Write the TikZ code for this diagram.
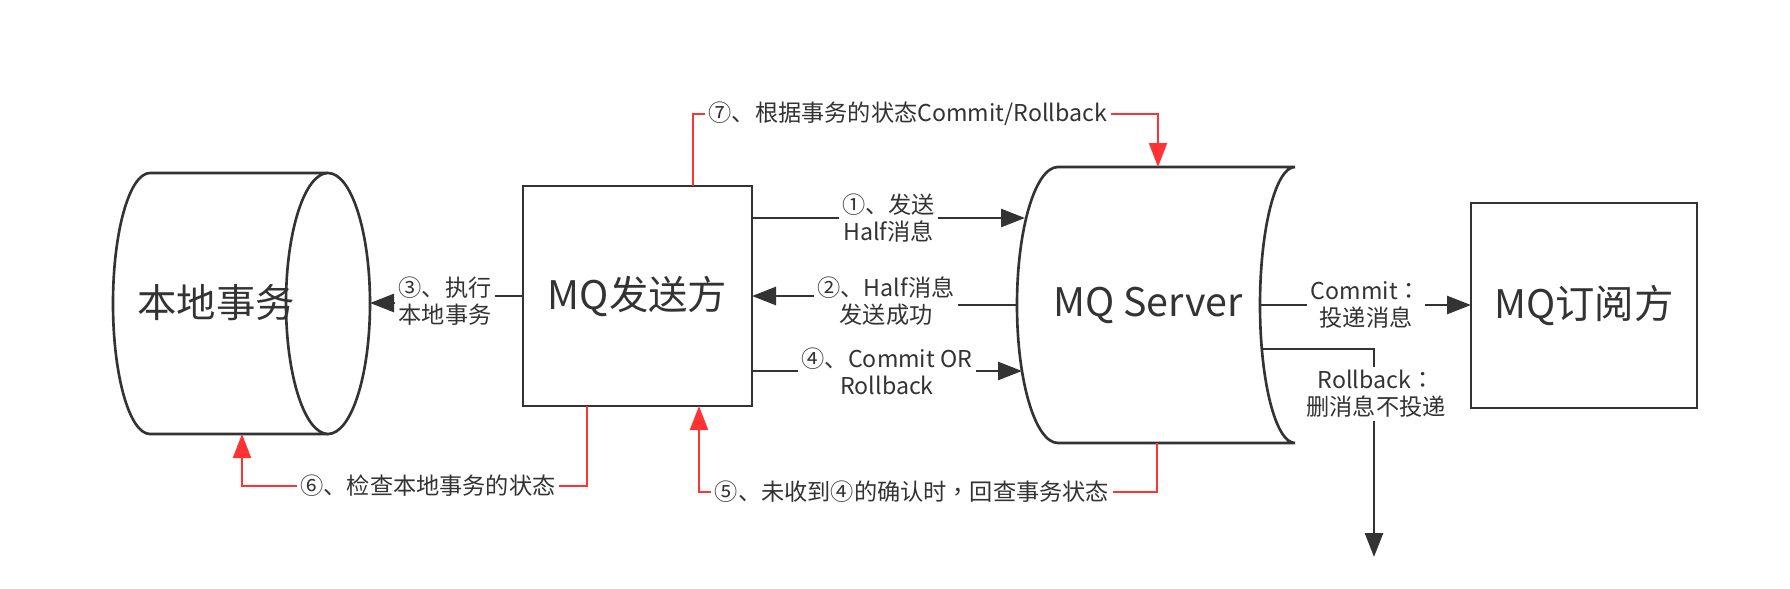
\documentclass[tikz,border=0pt]{standalone}
\usepackage{fontspec}
\setmainfont{Noto Sans CJK SC}
\newfontfamily\tcpunct{Noto Sans CJK TC}
\usetikzlibrary{arrows.meta,positioning}
\definecolor{LineGray}{RGB}{51,51,51}
\definecolor{FlowRed}{RGB}{255,51,51}
\newcommand{\bigtext}{\fontsize{11.2}{13}\selectfont}
\newcommand{\smalltext}{\fontsize{6.6}{7.7}\selectfont}

\begin{document}
\begin{tikzpicture}[x=0.1mm,y=-0.1mm,
  >={Triangle[length=2.4mm,width=1.8mm]},
  shapeline/.style={draw=LineGray,line width=0.75pt},
  box/.style={shapeline,fill=white,inner sep=0pt,outer sep=0pt,font=\bigtext,text=LineGray},
  flow/.style={->,draw=LineGray,line width=0.75pt},
  back/.style={->,draw=FlowRed,line width=0.6pt},
  lbl/.style={fill=white,inner sep=1pt,align=center,font=\smalltext,text=LineGray}]
\useasboundingbox (0,0) rectangle (1790,588);

% local transaction (cylinder)
\draw[shapeline] (328,173) -- (150,173) arc[start angle=90,end angle=270,x radius=3.7mm,y radius=13.05mm] -- (328,434);
\draw[shapeline,fill=white] (328,303.5) ellipse[x radius=4.2mm,y radius=13.05mm];
\node[font=\bigtext,text=LineGray] (local) at (216,303) {本地事务};
\coordinate (local in) at (370,303);
\coordinate (local bottom) at (242,434);

% producer and consumer
\node[box,minimum width=2.29cm,minimum height=2.2cm] (sender) at (637.5,296) {MQ发送方};
\node[box,minimum width=2.26cm,minimum height=2.05cm] (sub) at (1584,305.5) {MQ订阅方};

% MQ server (data storage)
\draw[shapeline] (1058,167) -- (1295,167) arc[start angle=90,end angle=270,x radius=3.5mm,y radius=13.8mm]
  -- (1058,443) arc[start angle=270,end angle=90,x radius=4.1mm,y radius=13.8mm] -- cycle;
\node[font=\bigtext,text=LineGray] (server) at (1148,305) {MQ Server};
\coordinate (srv a) at (1025,218);
\coordinate (srv b) at (1018,305);
\coordinate (srv d) at (1022,371);
\coordinate (srv c) at (1261,305);
\coordinate (srv e) at (1262,349);
\coordinate (srv top) at (1158,167);
\coordinate (srv bot) at (1157,443);
\coordinate (drop) at (1374,557);

% message flow
\draw[flow] (sender.east |- srv a) -- node[lbl] {①、发送\\Half消息} (srv a);
\draw[flow] (srv b) -- ++(-132,0) |- (sender.east);
\node[lbl] (ack) at (886,301) {②、Half消息\\发送成功};
\draw[flow] (sender.west) -- ++(-78,0) |- (local in);
\node[lbl] (exec) at (445,301) {③、执行\\本地事务};
\draw[flow] (sender.east |- srv d) -- node[lbl] {④、Commit OR\\Rollback} (srv d);
\draw[flow] (srv c) -- node[lbl] {Commit{\tcpunct ：}\\投递消息} (sub.west |- srv c);
\draw[flow] (srv e) -| (drop);
\node[lbl] (drop lbl) at (1376,394) {Rollback{\tcpunct ：}\\删消息不投递};

% check back
\draw[back] (srv bot) -- ++(0,49) -| ([xshift=6.15mm]sender.south);
\node[lbl] (check5) at (912,492) {⑤、未收到④的确认时{\tcpunct ，}回查事务状态};
\draw[back] ([xshift=-5.05mm]sender.south) -- ++(0,80) -| (local bottom);
\node[lbl] (check6) at (428,486) {⑥、检查本地事务的状态};
\draw[back] ([xshift=5.55mm]sender.north) -- ++(0,-72) -| (srv top);
\node[lbl] (commit7) at (908,114) {⑦、根据事务的状态Commit/Rollback};
\end{tikzpicture}
\end{document}
